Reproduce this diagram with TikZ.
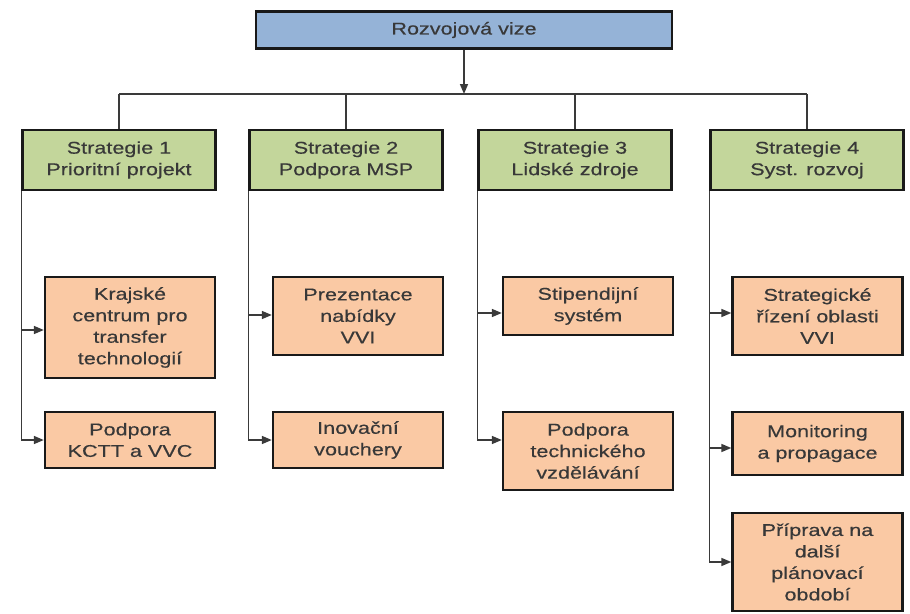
\documentclass[tikz,border=0pt]{standalone}
\usepackage{fontspec}
\setmainfont{Liberation Sans}[FakeStretch=1.27,FakeBold=0.4]
\usetikzlibrary{arrows.meta}
\definecolor{visfill}{HTML}{95B3D7}
\definecolor{strfill}{HTML}{C3D69B}
\definecolor{actfill}{HTML}{FAC9A4}
\definecolor{txt}{HTML}{383838}
\definecolor{wire}{HTML}{3A3A3A}
\begin{document}
\begin{tikzpicture}[x=1pt,y=-1pt,
  box/.style={draw=black!90, line width=2.4pt, align=center, inner sep=0pt,
    font=\fontsize{17}{21.5}\selectfont, text=txt},
  visbox/.style={box, fill=visfill, minimum width=416pt, minimum height=37pt},
  strbox/.style={box, fill=strfill, minimum width=193pt, minimum height=60pt},
  actbox/.style={box, fill=actfill, minimum width=170pt},
  wirel/.style={draw=wire, line width=1.6pt},
  arr/.style={wirel, -{Triangle[length=10pt,width=8pt]}}]
\useasboundingbox (0,0) rectangle (910,613);

\node[visbox] (v) at (464,30) {Rozvojová vize};

\node[strbox] (s1) at (119,160) {Strategie 1\\Prioritní projekt};
\node[strbox] (s2) at (346,160) {Strategie 2\\Podpora MSP};
\node[strbox] (s3) at (575,160) {Strategie 3\\Lidské zdroje};
\node[strbox] (s4) at (807,160) {Strategie 4\\Syst. rozvoj};

\node[actbox, minimum height=101pt] (a11) at (130,327.5) {Krajské\\centrum pro\\transfer\\technologií};
\node[actbox, minimum height=56pt] (a12) at (130,440) {Podpora\\KCTT a VVC};
\node[actbox, minimum height=78pt] (a21) at (358,316) {Prezentace\\nabídky\\VVI};
\node[actbox, minimum height=56pt] (a22) at (358,440) {Inovační\\vouchery};
\node[actbox, minimum height=58pt] (a31) at (588,306) {Stipendijní\\systém};
\node[actbox, minimum height=78pt] (a32) at (588,451) {Podpora\\technického\\vzdělávání};
\node[actbox, minimum height=78pt] (a41) at (817.5,316) {Strategické\\řízení oblasti\\VVI};
\node[actbox, minimum height=63pt] (a42) at (817.5,443.5) {Monitoring\\a propagace};
\node[actbox, minimum height=98pt] (a43) at (817.5,562) {Příprava na\\další\\plánovací\\období};

\coordinate (bus) at (464,94);
\draw[arr] (v.south) -- (bus);
\draw[wirel] (s1.north |- bus) -- (s4.north |- bus);
\foreach \s in {s1,s2,s3,s4} \draw[wirel] (\s.north |- bus) -- (\s.north);

\foreach \s/\a/\yy in {s1/a11/330,s1/a12/440,s2/a21/315,s2/a22/440,s3/a31/313,s3/a32/440,s4/a41/313,s4/a42/448,s4/a43/562}
  \draw[arr] (\s.south west) |- (\a.west |- 0,\yy);
\end{tikzpicture}
\end{document}
